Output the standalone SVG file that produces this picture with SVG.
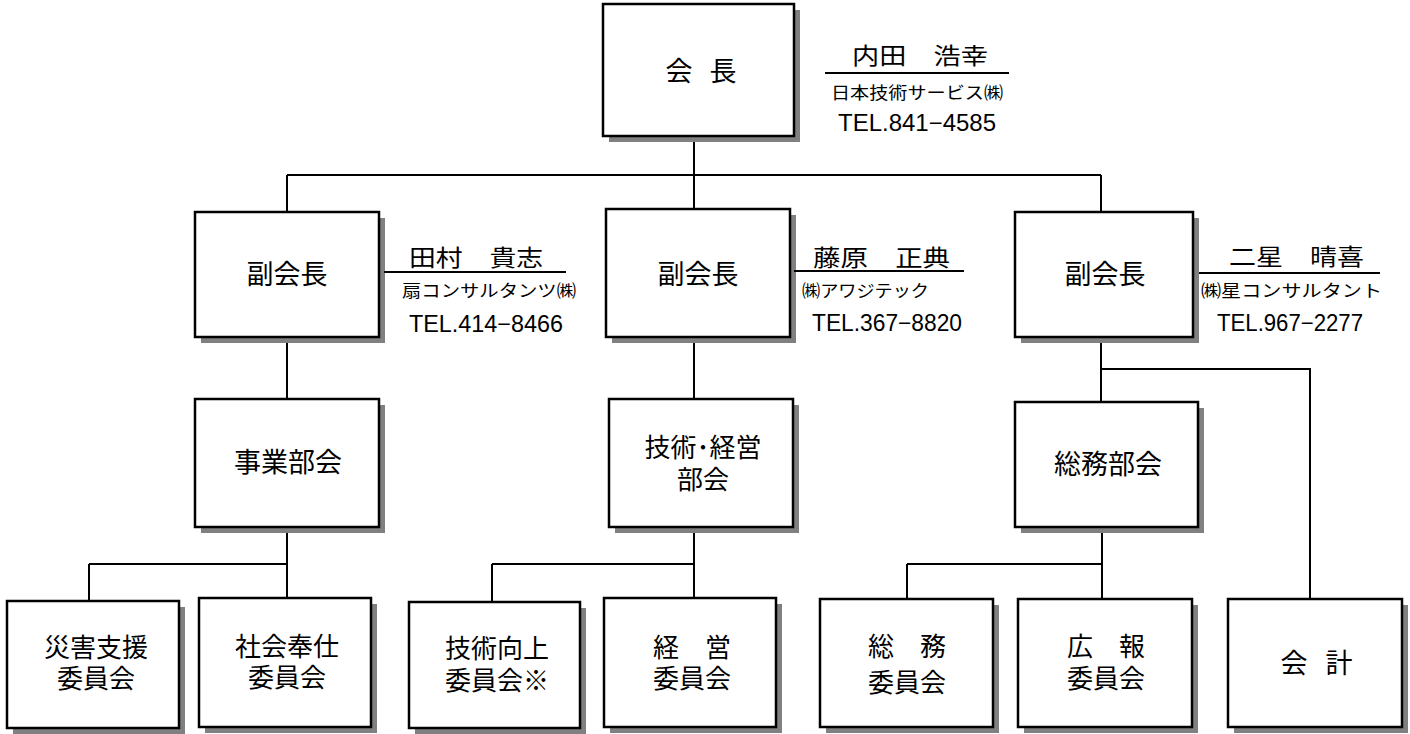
<svg xmlns="http://www.w3.org/2000/svg" width="1410" height="734" viewBox="0 0 1410 734">
<style>
.shadow{fill:#808080}
.box{fill:#fff;stroke:#000;stroke-width:2.5}
.conn{stroke:#000;stroke-width:2;fill:none}
.lbl{font-family:"Noto Sans CJK JP","Noto Sans CJK SC",sans-serif;font-size:27px;text-anchor:middle;fill:#000}
.l2{font-size:26px}
.nm{font-family:"Noto Sans CJK JP","Noto Sans CJK SC",sans-serif;font-size:23px;fill:#000}
.co{font-family:"Noto Sans CJK JP","Noto Sans CJK SC",sans-serif;font-size:17px;fill:#000}
.tel{font-family:"Liberation Sans",Arial,sans-serif;font-size:23px;fill:#000}
.ul{stroke:#000;stroke-width:2}
</style>
<rect width="1410" height="734" fill="#fff"/>
<g id="connectors">
<path class="conn" d="M694 136V175M287 175H1101M287 175V212M694 175V209M1101 175V212"/>
<path class="conn" d="M287 337V399M694 337V399M1101 337V402M1101 369H1310V599"/>
<path class="conn" d="M287 527V564M89 564H287M89 564V601M287 564V598"/>
<path class="conn" d="M694 527V564M492 564H694M492 564V602M694 564V598"/>
<path class="conn" d="M1102 527V564M907 564H1102M907 564V599M1102 564V599"/>
</g>
<g id="n-kaicho">
<rect class="shadow" x="609" y="10" width="191" height="132"/>
<rect class="box" x="603" y="4" width="191" height="132"/>
<text class="lbl" y="81"><tspan x="679">会</tspan><tspan x="723">長</tspan></text>
</g>
<g id="info-kaicho">
<text class="nm" x="852" y="64" textLength="136" lengthAdjust="spacingAndGlyphs">内田　浩幸</text>
<line class="ul" x1="825" y1="73" x2="1009" y2="73"/>
<text class="co" x="831" y="99" textLength="172" lengthAdjust="spacingAndGlyphs">日本技術サービス㈱</text>
<text class="tel" x="838" y="131" textLength="158" lengthAdjust="spacingAndGlyphs">TEL.841−4585</text>
</g>
<g id="n-vp1">
<rect class="shadow" x="201" y="218" width="184" height="125"/>
<rect class="box" x="195" y="212" width="184" height="125"/>
<text class="lbl" x="287" y="284">副会長</text>
</g>
<g id="info-vp1">
<text class="nm" x="409" y="266" textLength="134" lengthAdjust="spacingAndGlyphs">田村　貴志</text>
<line class="ul" x1="384" y1="272" x2="566" y2="272"/>
<text class="co" x="402" y="297" textLength="174" lengthAdjust="spacingAndGlyphs">扇コンサルタンツ㈱</text>
<text class="tel" x="409" y="332" textLength="154" lengthAdjust="spacingAndGlyphs">TEL.414−8466</text>
</g>
<g id="n-vp2">
<rect class="shadow" x="612" y="215" width="184" height="128"/>
<rect class="box" x="606" y="209" width="184" height="128"/>
<text class="lbl" x="698" y="284">副会長</text>
</g>
<g id="info-vp2">
<text class="nm" x="813" y="266" textLength="137" lengthAdjust="spacingAndGlyphs">藤原　正典</text>
<line class="ul" x1="794" y1="271" x2="964" y2="271"/>
<text class="co" x="802" y="297" textLength="127" lengthAdjust="spacingAndGlyphs">㈱アワジテック</text>
<text class="tel" x="812" y="331" textLength="150" lengthAdjust="spacingAndGlyphs">TEL.367−8820</text>
</g>
<g id="n-vp3">
<rect class="shadow" x="1021" y="218" width="178" height="125"/>
<rect class="box" x="1015" y="212" width="178" height="125"/>
<text class="lbl" x="1105" y="284">副会長</text>
</g>
<g id="info-vp3">
<text class="nm" x="1229" y="265" textLength="135" lengthAdjust="spacingAndGlyphs">二星　晴喜</text>
<line class="ul" x1="1199" y1="273" x2="1380" y2="273"/>
<text class="co" x="1201" y="297" textLength="181" lengthAdjust="spacingAndGlyphs">㈱星コンサルタント</text>
<text class="tel" x="1217" y="331" textLength="146" lengthAdjust="spacingAndGlyphs">TEL.967−2277</text>
</g>
<g id="n-jigyo">
<rect class="shadow" x="201" y="405" width="184" height="128"/>
<rect class="box" x="195" y="399" width="184" height="128"/>
<text class="lbl" x="288" y="472">事業部会</text>
</g>
<g id="n-gijutsukeiei">
<rect class="shadow" x="615" y="405" width="184" height="128"/>
<rect class="box" x="609" y="399" width="184" height="128"/>
<text class="lbl l2"><tspan x="703" y="457">技術･経営</tspan><tspan x="703" y="489">部会</tspan></text>
</g>
<g id="n-somu">
<rect class="shadow" x="1021" y="408" width="183" height="125"/>
<rect class="box" x="1015" y="402" width="183" height="125"/>
<text class="lbl" x="1108" y="474">総務部会</text>
</g>
<g id="n-saigai">
<rect class="shadow" x="13" y="607" width="172" height="127"/>
<rect class="box" x="7" y="601" width="172" height="127"/>
<text class="lbl l2"><tspan x="96" y="657">災害支援</tspan><tspan x="96" y="688">委員会</tspan></text>
</g>
<g id="n-shakai">
<rect class="shadow" x="205" y="604" width="172" height="129"/>
<rect class="box" x="199" y="598" width="172" height="129"/>
<text class="lbl l2"><tspan x="287" y="656">社会奉仕</tspan><tspan x="287" y="687">委員会</tspan></text>
</g>
<g id="n-gijutsukojo">
<rect class="shadow" x="415" y="608" width="171" height="126"/>
<rect class="box" x="409" y="602" width="171" height="126"/>
<text class="lbl l2"><tspan x="497" y="658">技術向上</tspan><tspan x="497" y="690">委員会※</tspan></text>
</g>
<g id="n-keiei">
<rect class="shadow" x="610" y="604" width="172" height="129"/>
<rect class="box" x="604" y="598" width="172" height="129"/>
<text class="lbl l2"><tspan x="692" y="657">経　営</tspan><tspan x="692" y="688">委員会</tspan></text>
</g>
<g id="n-somuiin">
<rect class="shadow" x="826" y="605" width="173" height="128"/>
<rect class="box" x="820" y="599" width="173" height="128"/>
<text class="lbl l2"><tspan x="907" y="656">総　務</tspan><tspan x="907" y="692">委員会</tspan></text>
</g>
<g id="n-koho">
<rect class="shadow" x="1024" y="605" width="174" height="128"/>
<rect class="box" x="1018" y="599" width="174" height="128"/>
<text class="lbl l2"><tspan x="1106" y="656">広　報</tspan><tspan x="1106" y="688">委員会</tspan></text>
</g>
<g id="n-kaikei">
<rect class="shadow" x="1234" y="605" width="174" height="128"/>
<rect class="box" x="1228" y="599" width="174" height="128"/>
<text class="lbl" y="673"><tspan x="1294">会</tspan><tspan x="1339">計</tspan></text>
</g>
</svg>
